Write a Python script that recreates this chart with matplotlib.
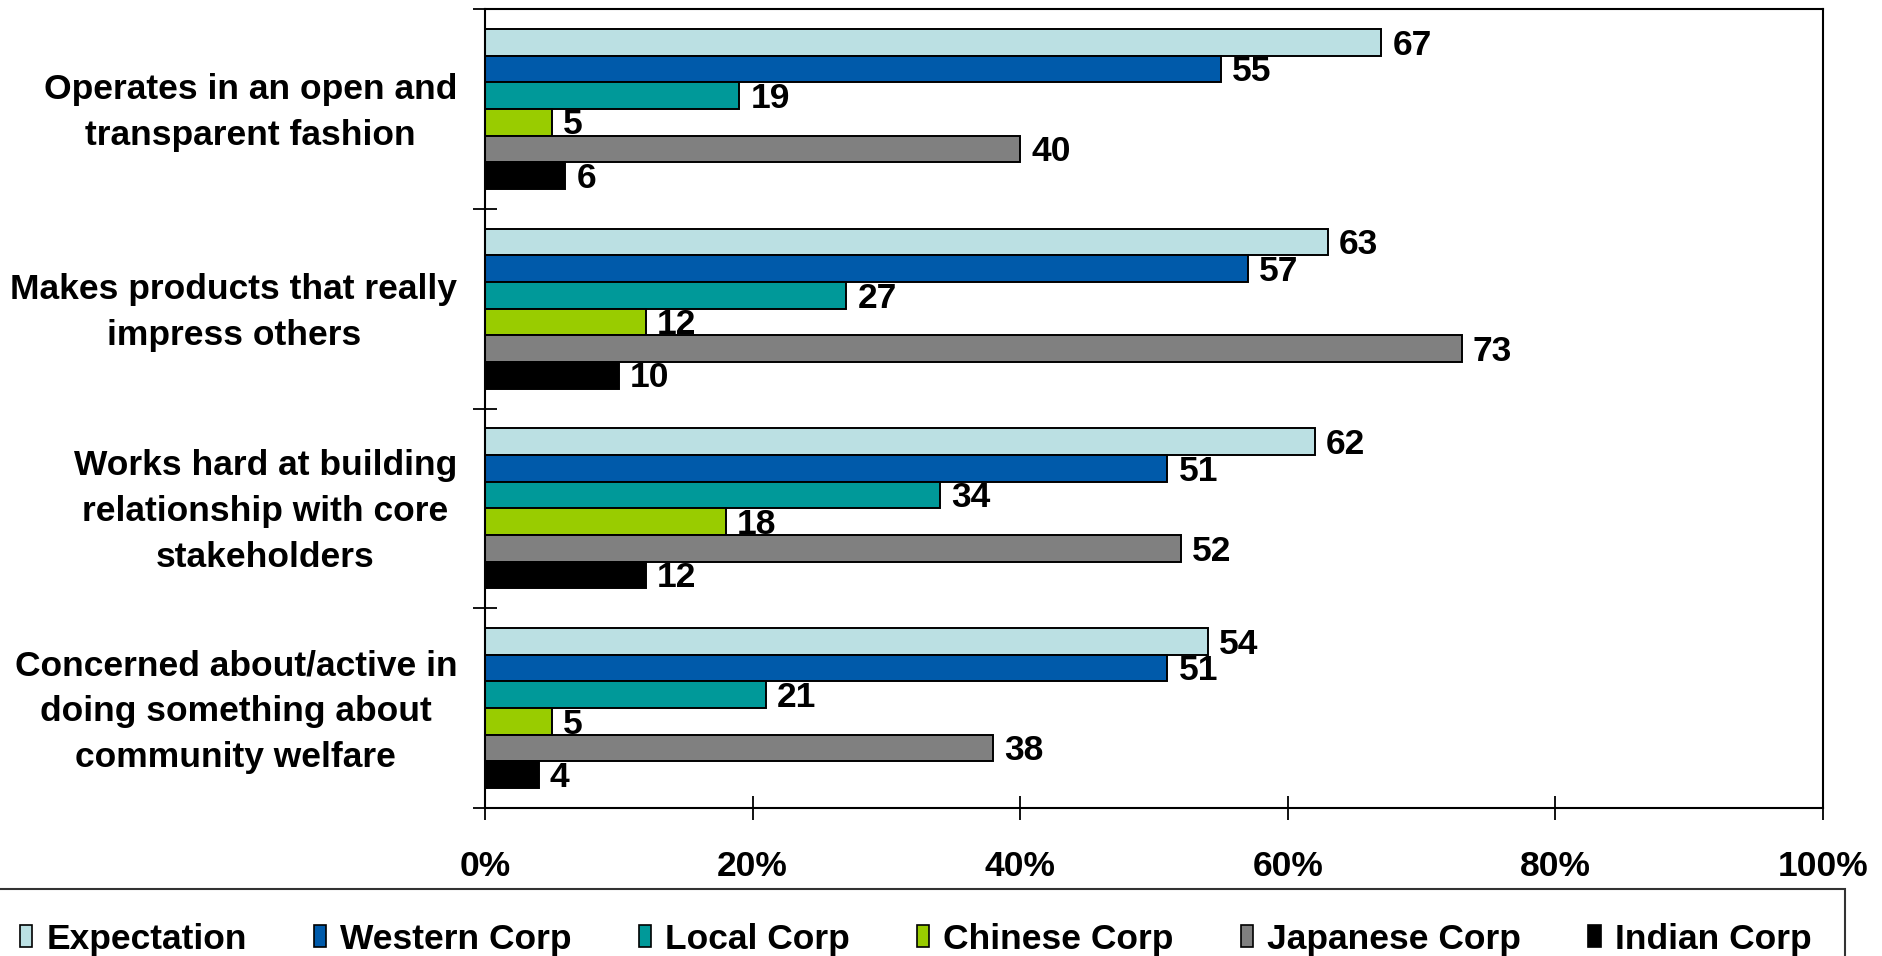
import numpy as np
import matplotlib.pyplot as plt
from matplotlib.patches import Patch
from matplotlib.transforms import ScaledTranslation

plt.rcParams['font.family'] = ['Liberation Sans', 'DejaVu Sans']
plt.rcParams['font.weight'] = 'bold'

## Données

categories = ["Operates in an open and\ntransparent fashion",
              "Makes products that really\nimpress others",
              "Works hard at building\nrelationship with core\nstakeholders",
              "Concerned about/active in\ndoing something about\ncommunity welfare"]

series = ["Expectation", "Western Corp", "Local Corp", "Chinese Corp", "Japanese Corp", "Indian Corp"]
couleurs = ["#BBE0E3", "#005AAA", "#009999", "#99CC00", "#808080", "#000000"]

expectation = [67, 63, 62, 54]
western = [55, 57, 51, 51]
local = [19, 27, 34, 21]
chinese = [5, 12, 18, 5]
japanese = [40, 73, 52, 38]
indian = [6, 10, 12, 4]

valeurs = [expectation, western, local, chinese, japanese, indian]

xticks = [0, 20, 40, 60, 80, 100]
xlabels = ["0%", "20%", "40%", "60%", "80%", "100%"]

## Figure

fs = 25.5
fig = plt.figure(figsize=(18.83, 9.56), dpi=100)
ax = fig.add_axes([485/1883, 1-808/956, (1823-485)/1883, (808-9)/956])

y = np.arange(len(categories))
h = 0.8 / len(series)
for i, (nom, vals) in enumerate(zip(series, valeurs)):
    pos = y - 0.4 + h*(i + 0.5)
    ax.barh(pos, vals, height=h, color=couleurs[i], edgecolor='black', linewidth=1.4, label=nom)
    # étiquettes de valeur à droite des barres
    for p, v in zip(pos, vals):
        ax.annotate(str(v), (v, p), xytext=(8, -2), textcoords='offset points',
                    ha='left', va='center', fontsize=fs, fontweight='bold')

ax.set_xlim(0, 100)
ax.set_ylim(len(categories) - 0.5, -0.5)

ax.set_xticks(xticks)
ax.set_xticklabels(xlabels, fontsize=fs, fontweight='bold')
ax.tick_params(axis='x', direction='inout', length=17, width=1.3, pad=22)

ax.set_yticks(y)
ax.set_yticklabels(categories, fontsize=fs, fontweight='bold', multialignment='center',
                   linespacing=1.5, va='center')
ax.set_yticks(np.arange(len(categories) + 1) - 0.5, minor=True)
ax.tick_params(axis='y', which='major', length=0, pad=20)
ax.tick_params(axis='y', which='minor', direction='inout', length=17, width=1.3)

# petit décalage vertical des libellés (après tick_params qui réinitialise les transforms)
decal = ScaledTranslation(0, -2.5/72, fig.dpi_scale_trans)
for lab in ax.get_yticklabels():
    lab.set_transform(lab.get_transform() + decal)

for s in ax.spines.values():
    s.set_linewidth(1.5)

# légende
poignees = [Patch(facecolor=c, edgecolor='black', linewidth=1.2) for c in couleurs]
leg = fig.legend(poignees, series, loc='upper left', bbox_to_anchor=(-14/1883, 1-889/956),
                 ncol=6, fontsize=fs, frameon=True, fancybox=False, borderaxespad=0,
                 handlelength=0.35, handleheight=0.6, handletextpad=0.4, columnspacing=1.89,
                 borderpad=0.95)
leg.get_frame().set_edgecolor('black')
leg.get_frame().set_linewidth(1.5)
for t in leg.get_texts():
    t.set_fontweight('bold')

fig.savefig("out.png", dpi=100)
